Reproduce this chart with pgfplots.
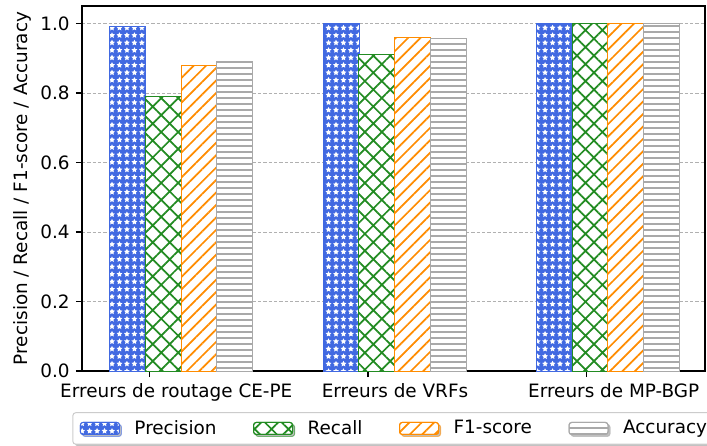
\documentclass[border=0pt]{standalone}
\usepackage{fontspec}
\setmainfont{DejaVu Sans}
\usepackage{pgfplots}
\pgfplotsset{compat=1.18}
\usetikzlibrary{patterns.meta,shadows}
\definecolor{cblue}{RGB}{65,105,225}
\definecolor{cgreen}{RGB}{34,139,34}
\definecolor{corange}{RGB}{255,140,0}
\definecolor{cgray}{RGB}{169,169,169}
\definecolor{cgrid}{RGB}{176,176,176}
\definecolor{cframe}{RGB}{204,204,204}
\begin{document}
\fontsize{13.8}{16.6}\selectfont
\begin{tikzpicture}
\begin{axis}[
  at={(0,0)}, anchor=south west,
  scale only axis, width=467.25pt, height=273.75pt,
  xmin=82, xmax=705, ymin=0, ymax=1.05,
  xtick={149.3,368,586.7},
  xticklabels={Erreurs de routage CE-PE, Erreurs de VRFs, Erreurs de MP-BGP},
  xticklabel style={xshift=20.25pt},
  ytick={0,0.2,0.4,0.6,0.8,1.0},
  yticklabel style={/pgf/number format/.cd, fixed, fixed zerofill, precision=1, assume math mode=true},
  ylabel={Precision / Recall / F1-score / Accuracy},
  ylabel style={xshift=0pt, yshift=-3pt},
  tick align=outside, tick pos=left,
  major tick length=4.5pt,
  tick style={black, line width=1.1pt},
  axis line style={line width=1.1pt},
  ymajorgrids,
  grid style={cgrid, dash pattern=on 2.5pt off 1.5pt, line width=0.6pt},
  legend columns=4,
  legend image code/.code={\draw[#1] (0pt,-4.5pt) rectangle (29.25pt,4.5pt);},
  legend style={at={(0.5,-0.113)}, anchor=north, draw=cframe, rounded corners=2pt,
    line width=0.75pt, inner xsep=5.25pt, inner ysep=5.5pt,
    drop shadow={shadow xshift=1.5pt, shadow yshift=-1.5pt, fill=gray!80, opacity=0.6},
    /tikz/every odd column/.style={column sep=10.9pt},
    /tikz/every even column/.style={column sep=27.4pt},
    nodes={inner sep=0pt}},
]
\addplot[ybar, bar shift=0pt, bar width=35.67, draw=cblue, line width=0.75pt, fill=cblue,
  postaction={pattern={Stars[distance=5.6pt, radius=2.3pt, points=5]}, pattern color=white}]
  coordinates {(127.8,0.99) (341.2,1.0) (554.5,1.0)};
\addlegendentry{Precision}
\addplot[ybar, bar shift=0pt, bar width=35.67, draw=cgreen, line width=0.75pt, fill=white,
  postaction={pattern={Hatch[angle=45, distance=9pt, line width=1.3pt]}, pattern color=cgreen}]
  coordinates {(163.5,0.79) (376.8,0.91) (590.2,1.0)};
\addlegendentry{Recall}
\addplot[ybar, bar shift=0pt, bar width=35.67, draw=corange, line width=0.75pt, fill=white,
  postaction={pattern={Lines[angle=45, distance=6.6pt, line width=1.3pt]}, pattern color=corange}]
  coordinates {(199.2,0.88) (412.5,0.96) (625.8,1.0)};
\addlegendentry{F1-score}
\addplot[ybar, bar shift=0pt, bar width=35.67, draw=cgray, line width=0.75pt, fill=white,
  postaction={pattern={Lines[angle=0, distance=4.5pt, line width=1.6pt]}, pattern color=cgray}]
  coordinates {(234.8,0.89) (448.2,0.956) (661.5,1.0)};
\addlegendentry{Accuracy}
\end{axis}
\pgfresetboundingbox
\useasboundingbox (-61.5pt,-56.25pt) rectangle (468.75pt,278.25pt);
\end{tikzpicture}
\end{document}
